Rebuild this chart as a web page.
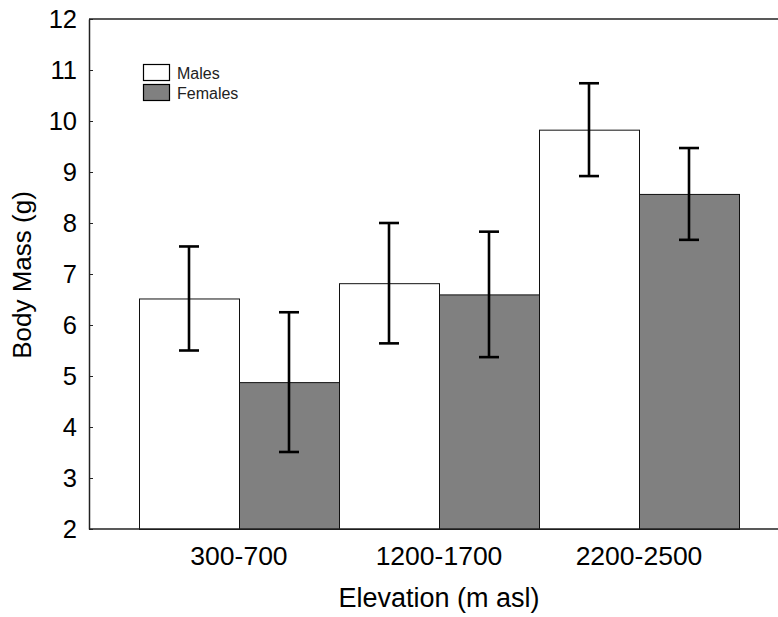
<!DOCTYPE html>
<html>
<head>
<meta charset="utf-8">
<script src="https://cdn.jsdelivr.net/npm/d3@7"></script>
<style>
  body { margin: 0; background: #fff; }
  text { font-family: Arial, "Liberation Sans", sans-serif; }
</style>
</head>
<body>
<div id="chart"></div>
<script>
// data
var elevations = ['300-700', '1200-1700', '2200-2500']
var sexes = ['Males', 'Females']
var malesMean = [6.52, 6.82, 9.83]
var malesErr = [1.02, 1.18, 0.91]
var femalesMean = [4.88, 6.60, 8.57]
var femalesErr = [1.37, 1.23, 0.90]
var yTicks = [2, 3, 4, 5, 6, 7, 8, 9, 10, 11, 12]

var colors = { Males: '#ffffff', Females: '#808080' }

var width = 778
var height = 617
var margin = { top: 19, left: 89, right: -11, bottom: 88 }

var svg = d3
  .select('#chart')
  .append('svg')
  .attr('width', width)
  .attr('height', height)

var rows = []
elevations.forEach((e, i) => {
  rows.push({ elev: e, sex: 'Males', mean: malesMean[i], err: malesErr[i] })
  rows.push({ elev: e, sex: 'Females', mean: femalesMean[i], err: femalesErr[i] })
})

var xScale = d3
  .scaleBand()
  .domain(elevations)
  .range([margin.left, width - margin.right])
  .paddingInner(0)
  .paddingOuter(0.25)

var subScale = d3
  .scaleBand()
  .domain(sexes)
  .range([0, xScale.bandwidth()])

var yScale = d3
  .scaleLinear()
  .domain([2, 12])
  .range([height - margin.bottom, margin.top])

// bars
svg
  .selectAll('.bar')
  .data(rows)
  .enter()
  .append('rect')
  .attr('class', 'bar')
  .attr('x', d => xScale(d.elev) + subScale(d.sex) + 0.5)
  .attr('y', d => yScale(d.mean) + 0.5)
  .attr('width', subScale.bandwidth())
  .attr('height', d => yScale(2) - yScale(d.mean))
  .attr('fill', d => colors[d.sex])
  .attr('stroke', '#111')
  .attr('stroke-width', 1)

// error bars
var eb = svg
  .selectAll('.err')
  .data(rows)
  .enter()
  .append('g')
  .attr('class', 'err')
  .attr('stroke', '#000')
  .attr('stroke-width', 2.6)

eb.append('line')
  .attr('x1', d => xScale(d.elev) + subScale(d.sex) + subScale.bandwidth() / 2)
  .attr('x2', d => xScale(d.elev) + subScale(d.sex) + subScale.bandwidth() / 2)
  .attr('y1', d => yScale(d.mean + d.err))
  .attr('y2', d => yScale(d.mean - d.err))

eb.selectAll('.cap')
  .data(d => [d.mean + d.err, d.mean - d.err].map(v => ({ v: v, d: d })))
  .enter()
  .append('line')
  .attr('class', 'cap')
  .attr('x1', c => xScale(c.d.elev) + subScale(c.d.sex) + subScale.bandwidth() / 2 - 10)
  .attr('x2', c => xScale(c.d.elev) + subScale(c.d.sex) + subScale.bandwidth() / 2 + 10)
  .attr('y1', c => yScale(c.v))
  .attr('y2', c => yScale(c.v))

// frame lines
svg
  .append('line')
  .attr('x1', margin.left)
  .attr('x2', width)
  .attr('y1', yScale(12))
  .attr('y2', yScale(12))
  .attr('stroke', '#222')
  .attr('stroke-width', 1.5)

svg
  .append('line')
  .attr('x1', margin.left)
  .attr('x2', width)
  .attr('y1', yScale(2))
  .attr('y2', yScale(2))
  .attr('stroke', '#222')
  .attr('stroke-width', 1.5)

// y axis
var yAxis = d3
  .axisLeft(yScale)
  .tickValues(yTicks)
  .tickSizeInner(-4)
  .tickSizeOuter(0)
  .tickPadding(12)

var yG = svg
  .append('g')
  .attr('class', 'axis y-axis')
  .attr('transform', `translate(${margin.left},0)`)
  .call(yAxis)

yG.select('.domain').attr('stroke', '#222').attr('stroke-width', 1.5)
yG.selectAll('.tick line').attr('stroke', '#222')
yG.selectAll('.tick text')
  .attr('font-size', 25.5)
  .attr('fill', '#000')
  .attr('font-family', 'Arial, "Liberation Sans", sans-serif')

// x labels
svg
  .selectAll('.x-label')
  .data(elevations)
  .enter()
  .append('text')
  .attr('class', 'x-label')
  .attr('x', d => xScale(d) + xScale.bandwidth() / 2)
  .attr('y', 565)
  .attr('text-anchor', 'middle')
  .attr('font-size', 26.5)
  .attr('fill', '#000')
  .text(d => d)

// axis titles
svg
  .append('text')
  .attr('x', xScale('1200-1700') + xScale.bandwidth() / 2)
  .attr('y', 607)
  .attr('text-anchor', 'middle')
  .attr('font-size', 27)
  .attr('fill', '#000')
  .text('Elevation (m asl)')

svg
  .append('text')
  .attr('transform', `translate(31, ${(yScale(2) + yScale(12)) / 2 + 1}) rotate(-90)`)
  .attr('text-anchor', 'middle')
  .attr('font-size', 26)
  .attr('fill', '#000')
  .text('Body Mass (g)')

// legend
var legend = svg
  .selectAll('.legend')
  .data(sexes)
  .enter()
  .append('g')
  .attr('class', 'legend')
  .attr('transform', (d, i) => `translate(143, ${64 + i * 20})`)

legend
  .append('rect')
  .attr('x', 0.5)
  .attr('y', 0.5)
  .attr('width', 26)
  .attr('height', 16)
  .attr('fill', d => colors[d])
  .attr('stroke', '#000')
  .attr('stroke-width', 1.2)

legend
  .append('text')
  .attr('x', 34)
  .attr('y', 15)
  .attr('font-size', 16)
  .attr('fill', '#222')
  .text(d => d)
</script>
</body>
</html>
